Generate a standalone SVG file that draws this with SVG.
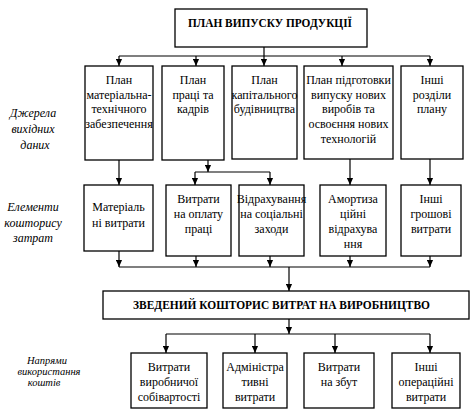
<svg xmlns="http://www.w3.org/2000/svg" width="471" height="418" viewBox="0 0 471 418">
<style>
.box{fill:#fff;stroke:#000;stroke-width:1.3}
.t{font-family:"Liberation Serif","Times New Roman",serif;font-size:12px;fill:#000;text-anchor:middle}
.b{font-family:"Liberation Serif","Times New Roman",serif;font-size:12px;font-weight:bold;fill:#000;text-anchor:middle}
.i{font-family:"Liberation Serif","Times New Roman",serif;font-size:12px;font-style:italic;fill:#000;text-anchor:middle}
.s{font-size:10.5px}
.c{fill:none;stroke:#000;stroke-width:1.2}
</style>
<defs>
<marker id="a" viewBox="0 0 8 8" refX="8" refY="4" markerWidth="7" markerHeight="7" orient="auto" markerUnits="userSpaceOnUse"><path d="M0,0.5 L8,4 L0,7.5z" fill="#000"/></marker>
</defs>
<rect width="471" height="418" fill="#fff"/>

<g id="labels">
<text class="i" x="33" y="117">Джерела</text>
<text class="i" x="33" y="133">вихідних</text>
<text class="i" x="35" y="149">даних</text>
<text class="i" x="33" y="211">Елементи</text>
<text class="i" x="33" y="227">кошторису</text>
<text class="i" x="33" y="242">затрат</text>
<text class="i s" x="47" y="364">Напрями</text>
<text class="i s" x="49" y="375">використання</text>
<text class="i s" x="44" y="386">коштів</text>
</g>

<g id="connectors">
<path class="c" d="M264,47 V56 M119,56 H430"/>
<path class="c" d="M119,56 V66" marker-end="url(#a)"/>
<path class="c" d="M196,56 V66" marker-end="url(#a)"/>
<path class="c" d="M264,56 V66" marker-end="url(#a)"/>
<path class="c" d="M342,56 V66" marker-end="url(#a)"/>
<path class="c" d="M430,56 V66" marker-end="url(#a)"/>
<path class="c" d="M119,160 V185" marker-end="url(#a)"/>
<path class="c" d="M208,160 V172" marker-end="url(#a)"/>
<path class="c" d="M195,172 H270"/>
<path class="c" d="M195,172 V185" marker-end="url(#a)"/>
<path class="c" d="M270,172 V185" marker-end="url(#a)"/>
<path class="c" d="M350,159 V185" marker-end="url(#a)"/>
<path class="c" d="M430,159 V185" marker-end="url(#a)"/>
<path class="c" d="M119,251 V267" marker-end="url(#a)"/>
<path class="c" d="M196,256 V267" marker-end="url(#a)"/>
<path class="c" d="M270,256 V267" marker-end="url(#a)"/>
<path class="c" d="M350,256 V267" marker-end="url(#a)"/>
<path class="c" d="M430,256 V267" marker-end="url(#a)"/>
<path class="c" d="M119,267 H430"/>
<path class="c" d="M289,267 V291" marker-end="url(#a)"/>
<path class="c" d="M289,319 V334" marker-end="url(#a)"/>
<path class="c" d="M166,334 H430"/>
<path class="c" d="M166,334 V353" marker-end="url(#a)"/>
<path class="c" d="M255,334 V353" marker-end="url(#a)"/>
<path class="c" d="M335,334 V353" marker-end="url(#a)"/>
<path class="c" d="M430,334 V353" marker-end="url(#a)"/>
</g>

<g id="plan">
<rect class="box" x="175" y="9" width="192" height="38"/>
<text class="b" x="270" y="27" textLength="164" lengthAdjust="spacingAndGlyphs">ПЛАН ВИПУСКУ ПРОДУКЦІЇ</text>
</g>

<g id="mto">
<rect class="box" x="85" y="66" width="68" height="94"/>
<text class="t" x="119" y="84">План</text>
<text class="t" x="119" y="99">матеріальна-</text>
<text class="t" x="119" y="113">технічного</text>
<text class="t" x="119" y="128">забезпечення</text>
</g>

<g id="kadry">
<rect class="box" x="162" y="66" width="62" height="94"/>
<text class="t" x="193" y="84">План</text>
<text class="t" x="193" y="99">праці та</text>
<text class="t" x="193" y="113">кадрів</text>
</g>

<g id="kapbud">
<rect class="box" x="232" y="66" width="65" height="93"/>
<text class="t" x="264.5" y="84">План</text>
<text class="t" x="264.5" y="99">капітального</text>
<text class="t" x="264.5" y="113">будівництва</text>
</g>

<g id="novi">
<rect class="box" x="304" y="66" width="89" height="93"/>
<text class="t" x="348.5" y="84">План підготовки</text>
<text class="t" x="348.5" y="99">випуску нових</text>
<text class="t" x="348.5" y="113">виробів та</text>
<text class="t" x="348.5" y="128">освоєння нових</text>
<text class="t" x="348.5" y="143">технологій</text>
</g>

<g id="inshi">
<rect class="box" x="401" y="66" width="62" height="93"/>
<text class="t" x="432" y="84">Інші</text>
<text class="t" x="432" y="99">розділи</text>
<text class="t" x="432" y="113">плану</text>
</g>

<g id="mat">
<rect class="box" x="84" y="185" width="69" height="66"/>
<text class="t" x="118.5" y="211">Матеріаль</text>
<text class="t" x="118.5" y="227">ні витрати</text>
</g>

<g id="oplata">
<rect class="box" x="166" y="185" width="65" height="71"/>
<text class="t" x="198.5" y="203">Витрати</text>
<text class="t" x="198.5" y="218">на оплату</text>
<text class="t" x="198.5" y="233">праці</text>
</g>

<g id="socz">
<rect class="box" x="239" y="185" width="65" height="71"/>
<text class="t" x="271.5" y="203">Відрахування</text>
<text class="t" x="271.5" y="218">на соціальні</text>
<text class="t" x="271.5" y="233">заходи</text>
</g>

<g id="amort">
<rect class="box" x="320" y="185" width="66" height="71"/>
<text class="t" x="353" y="203">Амортиза</text>
<text class="t" x="353" y="218">ційні</text>
<text class="t" x="353" y="233">відрахува</text>
<text class="t" x="353" y="248">ння</text>
</g>

<g id="groshovi">
<rect class="box" x="401" y="185" width="60" height="71"/>
<text class="t" x="431" y="203">Інші</text>
<text class="t" x="431" y="218">грошові</text>
<text class="t" x="431" y="233">витрати</text>
</g>

<g id="zved">
<rect class="box" x="103" y="291" width="366" height="28"/>
<text class="b" x="281.5" y="309" textLength="297" lengthAdjust="spacingAndGlyphs">ЗВЕДЕНИЙ КОШТОРИС  ВИТРАТ НА ВИРОБНИЦТВО</text>
</g>

<g id="sobiv">
<rect class="box" x="131" y="353" width="76" height="55"/>
<text class="t" x="169" y="371">Витрати</text>
<text class="t" x="169" y="386">виробничої</text>
<text class="t" x="169" y="401">собівартості</text>
</g>

<g id="admin">
<rect class="box" x="223" y="353" width="64" height="55"/>
<text class="t" x="255" y="371">Адміністра</text>
<text class="t" x="255" y="386">тивні</text>
<text class="t" x="255" y="401">витрати</text>
</g>

<g id="zbut">
<rect class="box" x="304" y="353" width="70" height="55"/>
<text class="t" x="339" y="371">Витрати</text>
<text class="t" x="339" y="386">на збут</text>
</g>

<g id="operac">
<rect class="box" x="392" y="353" width="68" height="55"/>
<text class="t" x="426" y="371">Інші</text>
<text class="t" x="426" y="386">операційні</text>
<text class="t" x="426" y="401">витрати</text>
</g>
</svg>
